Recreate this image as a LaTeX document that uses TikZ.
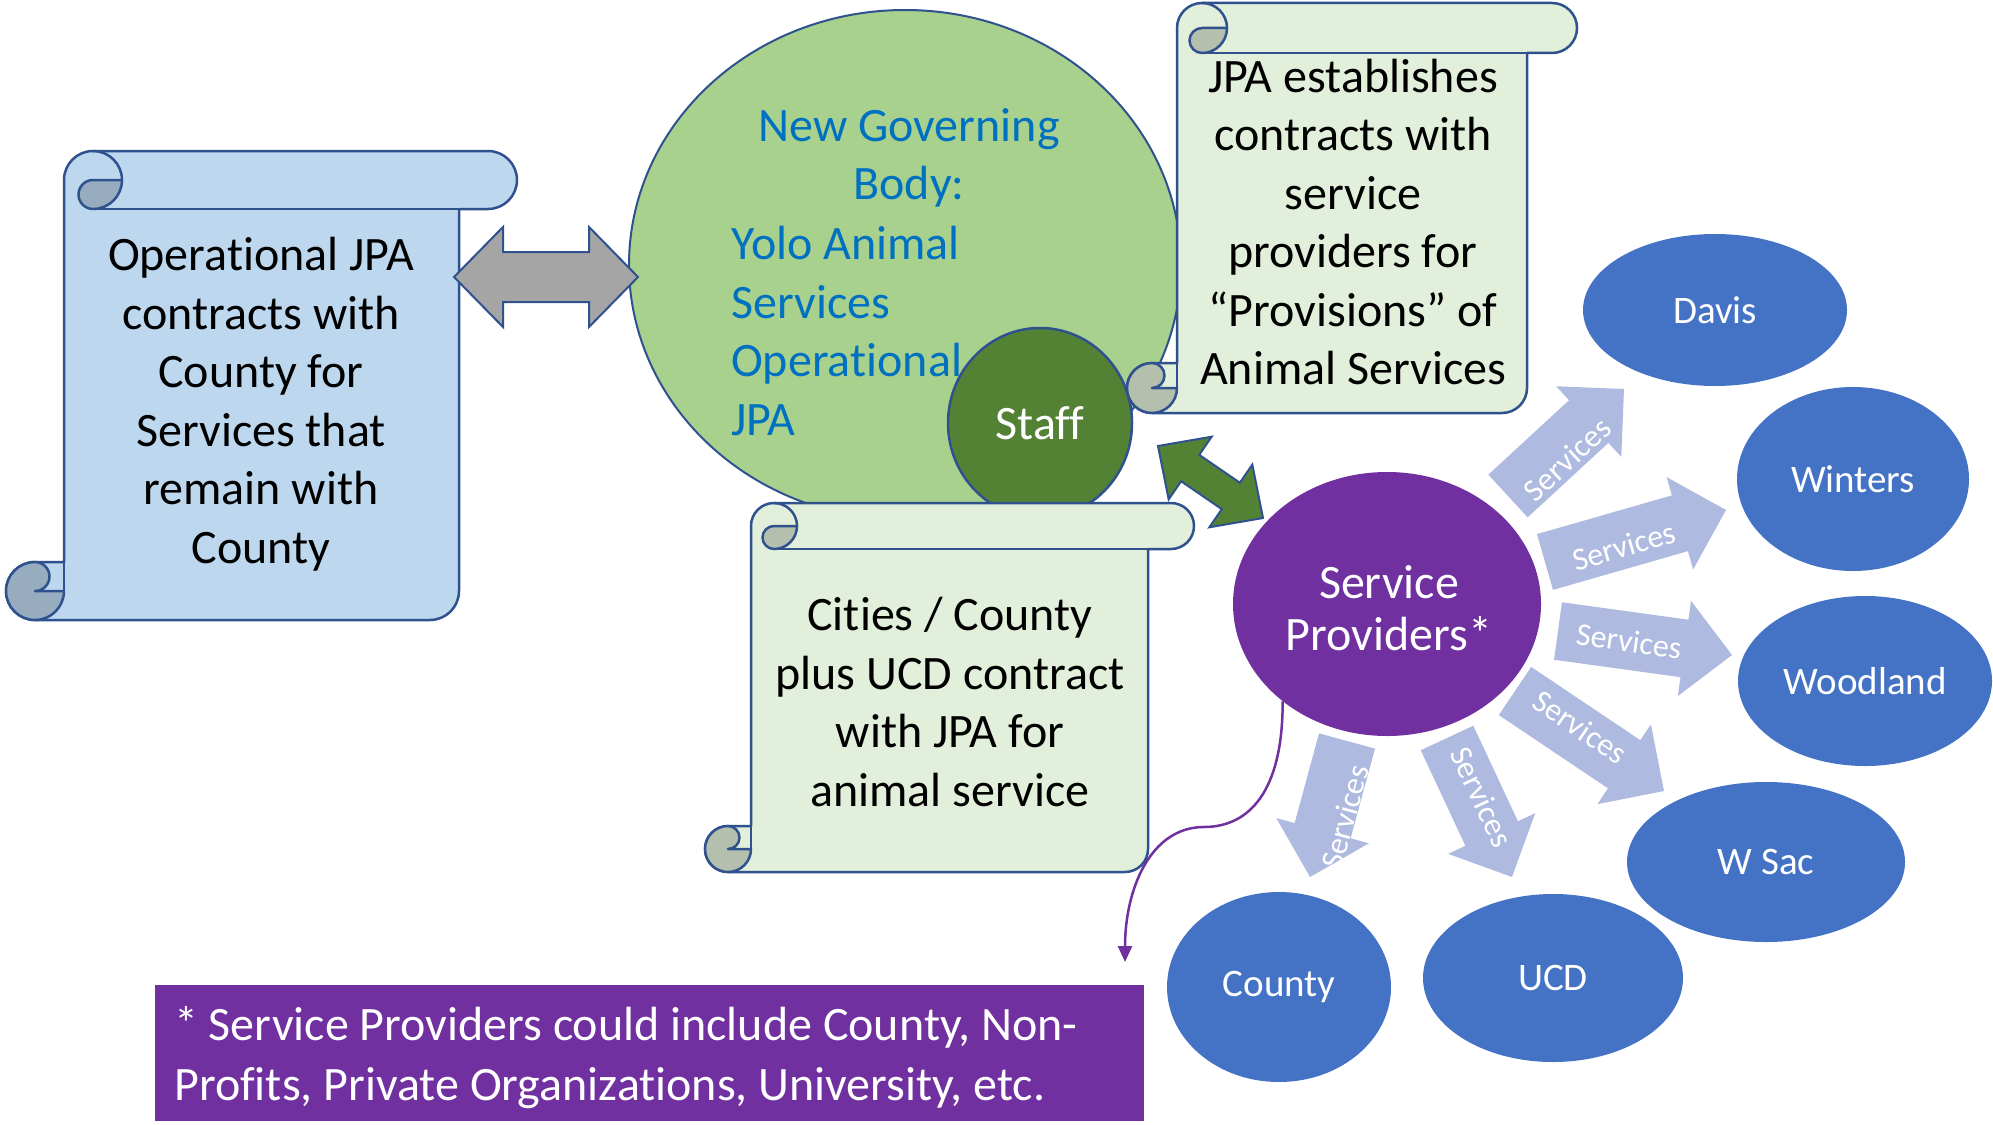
\documentclass[tikz,border=0pt]{standalone}
\usepackage{fontspec}
\setmainfont{Carlito}[Ligatures={NoCommon}]
\usetikzlibrary{calc,shapes.geometric,arrows.meta}
\definecolor{outl}{HTML}{2F528F}
\definecolor{bluescroll}{HTML}{BDD7EE}
\definecolor{bluecurl}{HTML}{97ACBE}
\definecolor{greenscroll}{HTML}{E2EFDA}
\definecolor{greencurl}{HTML}{B5BFAE}
\definecolor{govgreen}{HTML}{A9D18E}
\definecolor{staffgreen}{HTML}{548235}
\definecolor{govtext}{HTML}{0070C0}
\definecolor{spurple}{HTML}{7030A0}
\definecolor{cityblue}{HTML}{4472C4}
\definecolor{svcblue}{HTML}{AEBADF}
\definecolor{arrowgray}{HTML}{A5A5A5}

\tikzset{
  scrollline/.style={draw=outl, line width=2.5pt, line join=round},
  bigtext/.style={font=\fontsize{48}{58.5}\selectfont, inner sep=0pt, align=center},
  city/.style={ellipse, fill=cityblue, inner sep=0pt, text=white, font=\fontsize{39}{47}\selectfont},
  svcarrow/.style={fill=svcblue},
  svclabel/.style={text=white, font=\fontsize{32}{38}\selectfont, inner sep=0pt},
}

% scroll: L T R B r fill curlfill  (y grows downward)
\newcommand\scrollshape[7]{%
  \pgfmathsetmacro\scrollL{#1}\pgfmathsetmacro\scrollT{#2}%
  \pgfmathsetmacro\scrollR{#3}\pgfmathsetmacro\scrollB{#4}%
  \pgfmathsetmacro\scrollr{#5}\pgfmathsetmacro\scrollh{#5/2}%
  \filldraw[scrollline, fill=#6] (\scrollL,\scrollT+\scrollr)
    arc[start angle=180, end angle=270, radius=\scrollr pt]
    -- (\scrollR+\scrollr,\scrollT)
    arc[start angle=270, end angle=450, radius=\scrollr pt]
    -- (\scrollR,\scrollT+2*\scrollr) -- (\scrollR,\scrollB-\scrollr)
    arc[start angle=0, end angle=90, radius=\scrollr pt]
    -- (\scrollL-\scrollr,\scrollB)
    arc[start angle=90, end angle=270, radius=\scrollr pt]
    -- (\scrollL,\scrollB-2*\scrollr) -- cycle;
  \draw[scrollline] (\scrollL+\scrollr,\scrollT+2*\scrollr) -- (\scrollR,\scrollT+2*\scrollr);
  \draw[scrollline] (\scrollL+\scrollr,\scrollT) arc[start angle=270, end angle=360, radius=\scrollr pt];
  \filldraw[scrollline, fill=#7] (\scrollL+2*\scrollr,\scrollT+\scrollr)
    arc[start angle=0, end angle=90, radius=\scrollr pt]
    arc[start angle=90, end angle=270, radius=\scrollh pt] -- cycle;
  \filldraw[scrollline, fill=#7] (\scrollL-\scrollr,\scrollB)
    arc[start angle=90, end angle=270, radius=\scrollr pt]
    arc[start angle=270, end angle=450, radius=\scrollh pt]
    -- (\scrollL,\scrollB-\scrollr)
    arc[start angle=0, end angle=90, radius=\scrollr pt] -- cycle;
  \draw[scrollline] (\scrollL,\scrollB-2*\scrollr) -- (\scrollL,\scrollB-\scrollr);
}

% block arrow: style, tail, tip, half shaft, half head, head length
\newcommand\blockarrow[6]{%
  \coordinate (ba-h) at ($(#3)!#6!(#2)$);
  \path[#1] ($(#2)!#4!90:(#3)$) -- ($(ba-h)!#4!-90:(#2)$) -- ($(ba-h)!#5!-90:(#2)$)
    -- (#3) -- ($(ba-h)!#5!90:(#2)$) -- ($(ba-h)!#4!90:(#2)$) -- ($(#2)!#4!-90:(#3)$) -- cycle;
}

% double arrow: style, end a, end b, half shaft, half head, head length
\newcommand\dblarrow[6]{%
  \coordinate (da-a) at ($(#2)!#6!(#3)$);
  \coordinate (da-b) at ($(#3)!#6!(#2)$);
  \path[#1] (#2) -- ($(da-a)!#5!90:(#3)$) -- ($(da-a)!#4!90:(#3)$)
    -- ($(da-b)!#4!-90:(#2)$) -- ($(da-b)!#5!-90:(#2)$) -- (#3)
    -- ($(da-b)!#5!90:(#2)$) -- ($(da-b)!#4!90:(#2)$)
    -- ($(da-a)!#4!-90:(#3)$) -- ($(da-a)!#5!-90:(#3)$) -- cycle;
}

\begin{document}
\begin{tikzpicture}[x=1pt, y=1pt, yscale=-1]
\useasboundingbox (0,0) rectangle (1993,1124);
\fill[white] (0,0) rectangle (1993,1124);

% left scroll
\scrollshape{64}{151}{459}{620}{29}{bluescroll}{bluecurl}
\node[bigtext] (lscroll) at (261,404) {Operational JPA\\contracts with\\County for\\Services that\\remain with\\County};

% governing body
\node[ellipse, fill=govgreen, draw=outl, line width=2pt, minimum width=552pt, minimum height=510pt, inner sep=0pt] (gov) at (905,265) {};
\node[bigtext, text=govtext] (govtitle) at (909,158) {New Governing\\Body:};
\node[bigtext, text=govtext, align=left, anchor=west] (govname) at (731,331) {Yolo Animal\\Services\\Operational\\JPA};

% staff
\node[ellipse, fill=staffgreen, draw=outl, line width=2.5pt, minimum width=184pt, minimum height=190pt, inner sep=0pt, text=white, font=\fontsize{48}{58}\selectfont] (staff) at (1040,423) {Staff};

% top right scroll
\scrollshape{1177}{3}{1527}{413}{25}{greenscroll}{greencurl}
\node[bigtext] (jpascroll) at (1353,222) {JPA establishes\\contracts with\\service\\providers for\\“Provisions” of\\Animal Services};

% bottom scroll
\scrollshape{751}{503}{1148}{872}{23}{greenscroll}{greencurl}
\node[bigtext] (cityscroll) at (950,702) {Cities / County\\plus UCD contract\\with JPA for\\animal service};

% gray double arrow
\coordinate (ga) at (454,277);
\coordinate (gb) at (638,277);
\dblarrow{fill=arrowgray, draw=outl, line width=2pt, line join=miter}{ga}{gb}{25pt}{50pt}{49pt}

% service providers
\node[ellipse, fill=spurple, minimum width=308pt, minimum height=264pt, inner sep=0pt] (sp) at (1387,604) {};
\node[text=white, font=\fontsize{48}{52}\selectfont, align=center, inner sep=0pt] (sptext) at (1389,608) {Service\\Providers*};

% green double arrow
\coordinate (gra) at (1158,446);
\coordinate (grb) at (1263,518);
\dblarrow{fill=staffgreen, draw=outl, line width=2pt, line join=miter}{gra}{grb}{16pt}{38pt}{39pt}

% cities
\node[city, minimum width=264pt, minimum height=152pt] (davis) at (1715,310) {Davis};
\node[city, minimum width=232pt, minimum height=184pt] (winters) at (1853,479) {Winters};
\node[city, minimum width=254pt, minimum height=170pt] (woodland) at (1865,681) {Woodland};
\node[city, minimum width=278pt, minimum height=160pt] (wsac) at (1766,862) {W Sac};
\node[city, minimum width=260pt, minimum height=168pt] (ucd) at (1553,978) {UCD};
\node[city, minimum width=224pt, minimum height=190pt] (county) at (1279,987) {County};

% service arrows
\coordinate (a1t) at (1508,496); \coordinate (a1h) at (1624,389);
\coordinate (a2t) at (1545,562); \coordinate (a2h) at (1726,510);
\coordinate (a3t) at (1558,631); \coordinate (a3h) at (1732,655);
\coordinate (a4t) at (1515,691); \coordinate (a4h) at (1664,791);
\coordinate (a5t) at (1447,738); \coordinate (a5h) at (1512,877);
\coordinate (a6t) at (1347,741); \coordinate (a6h) at (1310,877);
\blockarrow{svcarrow}{a1t}{a1h}{29pt}{48pt}{48pt}
\blockarrow{svcarrow}{a2t}{a2h}{29pt}{48pt}{48pt}
\blockarrow{svcarrow}{a3t}{a3h}{29pt}{48pt}{48pt}
\blockarrow{svcarrow}{a4t}{a4h}{29pt}{48pt}{48pt}
\blockarrow{svcarrow}{a5t}{a5h}{29pt}{48pt}{48pt}
\blockarrow{svcarrow}{a6t}{a6h}{29pt}{48pt}{48pt}
\node[svclabel, rotate=43] (s1) at (1567,459) {Services};
\node[svclabel, rotate=16] (s2) at (1624,546) {Services};
\node[svclabel, rotate=-8] (s3) at (1629,641) {Services};
\node[svclabel, rotate=-34] (s4) at (1580,727) {Services};
\node[svclabel, rotate=-65] (s5) at (1482,797) {Services};
\node[svclabel, rotate=75] (s6) at (1345,817) {Services};

% footnote
\node[fill=spurple, minimum width=989pt, minimum height=136pt, inner sep=0pt, anchor=north west] (fnbox) at (155,985) {};
\node[inner sep=0pt, align=left, text=white, font=\fontsize{48}{60}\selectfont, anchor=north west] (fntext) at (174,1006) {* Service Providers could include County, Non-\\Profits, Private Organizations, University, etc.};

\coordinate (fnarrow) at (1125,962);
\draw[spurple, line width=2.5pt, -{Triangle[length=16pt, width=14pt]}] (sp.223) .. controls (1283,790) and (1250,827) .. (1204,827) .. controls (1150,827) and (1125,890) .. (fnarrow);
\end{tikzpicture}
\end{document}
